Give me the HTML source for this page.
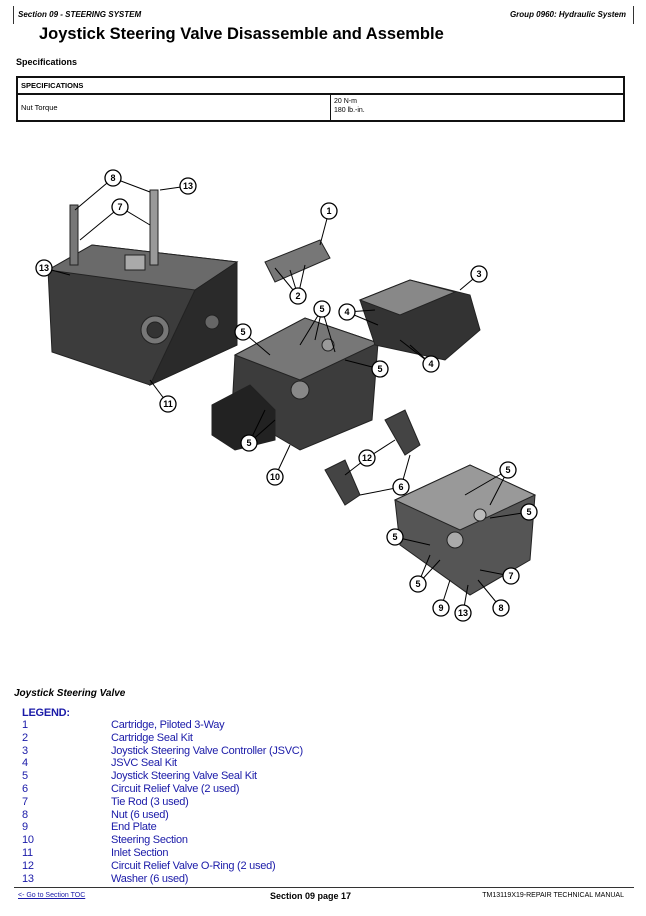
<!DOCTYPE html>
<html><head><meta charset="utf-8"><style>
body{margin:0;width:646px;height:916px;background:#fff;font-family:"Liberation Sans",sans-serif;position:relative;overflow:hidden}
.a{position:absolute;white-space:nowrap}
.hdr{font-size:8px;font-weight:bold;font-style:italic}
.lg{color:#1a1aa8;font-size:11px;line-height:12.8px;letter-spacing:-0.25px}
</style></head><body>
<div class="a" style="left:13px;top:6px;width:1px;height:18px;background:#333"></div>
<div class="a" style="left:633px;top:6px;width:1px;height:18px;background:#333"></div>
<div class="a hdr" style="left:18px;top:10px">Section 09 - STEERING SYSTEM</div>
<div class="a hdr" style="right:20px;top:10px">Group 0960: Hydraulic System</div>
<div class="a" style="left:39px;top:25px;font-size:16.5px;font-weight:bold">Joystick Steering Valve Disassemble and Assemble</div>
<div class="a" style="left:16px;top:57px;font-size:9px;font-weight:bold">Specifications</div>
<div class="a" style="left:16px;top:76px;width:609px;height:46px;border:2px solid #111;box-sizing:border-box"></div>
<div class="a" style="left:16px;top:93px;width:609px;height:2px;background:#111"></div>
<div class="a" style="left:330px;top:94px;width:1px;height:28px;background:#111"></div>
<div class="a" style="left:21px;top:81px;font-size:7.5px;font-weight:bold">SPECIFICATIONS</div>
<div class="a" style="left:21px;top:103px;font-size:7.5px">Nut Torque</div>
<div class="a" style="left:334px;top:97px;font-size:7px;line-height:9px">20 N-m<br>180 lb.-in.</div>

<svg class="a" style="left:0;top:140px" width="646" height="540" viewBox="0 140 646 540">
<g stroke="#222" stroke-width="1">
<polygon points="48,270 92,245 237,262 237,345 150,385 52,352" fill="#3c3c3c"/>
<polygon points="48,270 92,245 237,262 195,290" fill="#6a6a6a"/>
<polygon points="195,290 237,262 237,345 150,385" fill="#2a2a2a"/>
<circle cx="155" cy="330" r="14" fill="#777"/><circle cx="155" cy="330" r="8" fill="#333"/>
<circle cx="212" cy="322" r="7" fill="#666"/>
<rect x="70" y="205" width="8" height="60" fill="#777"/><rect x="150" y="190" width="8" height="75" fill="#999"/>
<rect x="125" y="255" width="20" height="15" fill="#aaa"/>
<polygon points="235,355 305,318 378,343 372,420 300,450 232,410" fill="#3c3c3c"/>
<polygon points="235,355 305,318 378,343 300,380" fill="#777"/>
<polygon points="212,405 250,385 275,410 275,440 235,450 212,435" fill="#222"/>
<circle cx="300" cy="390" r="9" fill="#888"/><circle cx="328" cy="345" r="6" fill="#999"/>
<polygon points="360,300 410,280 470,295 480,330 445,360 375,345" fill="#333"/>
<polygon points="360,300 410,280 455,292 400,315" fill="#888"/>
<polygon points="265,262 320,240 330,258 275,282" fill="#777"/>
<polygon points="395,500 470,465 535,495 530,560 470,595 400,545" fill="#555"/>
<polygon points="395,500 470,465 535,495 460,530" fill="#999"/>
<circle cx="455" cy="540" r="8" fill="#aaa"/><circle cx="480" cy="515" r="6" fill="#bbb"/>
<polygon points="325,470 345,460 360,495 345,505" fill="#444"/>
<polygon points="385,420 405,410 420,445 405,455" fill="#444"/>
</g>
<g stroke="#000" stroke-width="1" fill="none">
<line x1="113" y1="178" x2="75" y2="210"/><line x1="113" y1="178" x2="150" y2="192"/>
<line x1="120" y1="207" x2="80" y2="240"/><line x1="120" y1="207" x2="150" y2="225"/>
<line x1="188" y1="186" x2="160" y2="190"/><line x1="44" y1="268" x2="70" y2="275"/>
<line x1="329" y1="211" x2="320" y2="245"/><line x1="298" y1="296" x2="275" y2="268"/><line x1="298" y1="296" x2="290" y2="270"/><line x1="298" y1="296" x2="305" y2="265"/>
<line x1="479" y1="274" x2="460" y2="290"/><line x1="347" y1="312" x2="375" y2="310"/><line x1="347" y1="312" x2="378" y2="325"/>
<line x1="431" y1="364" x2="400" y2="340"/><line x1="431" y1="364" x2="410" y2="345"/>
<line x1="322" y1="309" x2="300" y2="345"/><line x1="322" y1="309" x2="315" y2="340"/><line x1="322" y1="309" x2="335" y2="352"/>
<line x1="243" y1="332" x2="270" y2="355"/><line x1="380" y1="369" x2="345" y2="360"/>
<line x1="168" y1="404" x2="150" y2="380"/><line x1="249" y1="443" x2="265" y2="410"/><line x1="249" y1="443" x2="275" y2="420"/>
<line x1="275" y1="477" x2="290" y2="445"/><line x1="367" y1="458" x2="345" y2="475"/><line x1="367" y1="458" x2="395" y2="440"/>
<line x1="401" y1="487" x2="360" y2="495"/><line x1="401" y1="487" x2="410" y2="455"/>
<line x1="508" y1="470" x2="465" y2="495"/><line x1="508" y1="470" x2="490" y2="505"/><line x1="529" y1="512" x2="490" y2="518"/>
<line x1="395" y1="537" x2="430" y2="545"/><line x1="418" y1="584" x2="430" y2="555"/><line x1="418" y1="584" x2="440" y2="560"/>
<line x1="441" y1="608" x2="450" y2="580"/><line x1="463" y1="613" x2="468" y2="585"/><line x1="501" y1="608" x2="478" y2="580"/><line x1="511" y1="576" x2="480" y2="570"/>
</g>
<g font-size="9" font-weight="bold" text-anchor="middle" font-family="Liberation Sans,sans-serif">
<g fill="#fff" stroke="#000" stroke-width="1.3">
<circle cx="113" cy="178" r="8"/><circle cx="188" cy="186" r="8"/><circle cx="120" cy="207" r="8"/><circle cx="329" cy="211" r="8"/><circle cx="44" cy="268" r="8"/><circle cx="298" cy="296" r="8"/><circle cx="479" cy="274" r="8"/><circle cx="322" cy="309" r="8"/><circle cx="347" cy="312" r="8"/><circle cx="243" cy="332" r="8"/><circle cx="380" cy="369" r="8"/><circle cx="431" cy="364" r="8"/><circle cx="168" cy="404" r="8"/><circle cx="249" cy="443" r="8"/><circle cx="275" cy="477" r="8"/><circle cx="367" cy="458" r="8"/><circle cx="401" cy="487" r="8"/><circle cx="508" cy="470" r="8"/><circle cx="529" cy="512" r="8"/><circle cx="395" cy="537" r="8"/><circle cx="511" cy="576" r="8"/><circle cx="418" cy="584" r="8"/><circle cx="441" cy="608" r="8"/><circle cx="463" cy="613" r="8"/><circle cx="501" cy="608" r="8"/>
</g>
<text x="113" y="181">8</text><text x="188" y="189">13</text><text x="120" y="210">7</text><text x="329" y="214">1</text><text x="44" y="271">13</text><text x="298" y="299">2</text><text x="479" y="277">3</text><text x="322" y="312">5</text><text x="347" y="315">4</text><text x="243" y="335">5</text><text x="380" y="372">5</text><text x="431" y="367">4</text><text x="168" y="407">11</text><text x="249" y="446">5</text><text x="275" y="480">10</text><text x="367" y="461">12</text><text x="401" y="490">6</text><text x="508" y="473">5</text><text x="529" y="515">5</text><text x="395" y="540">5</text><text x="511" y="579">7</text><text x="418" y="587">5</text><text x="441" y="611">9</text><text x="463" y="616">13</text><text x="501" y="611">8</text>
</g>
</svg>

<div class="a" style="left:14px;top:688px;font-size:10px;font-weight:bold;font-style:italic">Joystick Steering Valve</div>
<div class="a lg" style="left:22px;top:707px;font-weight:bold">LEGEND:</div>
<div class="a lg" style="left:22px;top:719px">1<br>2<br>3<br>4<br>5<br>6<br>7<br>8<br>9<br>10<br>11<br>12<br>13</div>
<div class="a lg" style="left:111px;top:719px">Cartridge, Piloted 3-Way<br>Cartridge Seal Kit<br>Joystick Steering Valve Controller (JSVC)<br>JSVC Seal Kit<br>Joystick Steering Valve Seal Kit<br>Circuit Relief Valve (2 used)<br>Tie Rod (3 used)<br>Nut (6 used)<br>End Plate<br>Steering Section<br>Inlet Section<br>Circuit Relief Valve O-Ring (2 used)<br>Washer (6 used)</div>
<div class="a" style="left:14px;top:887px;width:620px;height:1px;background:#333"></div>
<div class="a" style="left:18px;top:892px;font-size:7px;color:#1a1aa8;text-decoration:underline">&lt;- Go to Section TOC</div>
<div class="a" style="left:270px;top:891px;font-size:9px;font-weight:bold">Section 09 page 17</div>
<div class="a" style="right:22px;top:892px;font-size:7px">TM13119X19-REPAIR TECHNICAL MANUAL</div>
</body></html>
